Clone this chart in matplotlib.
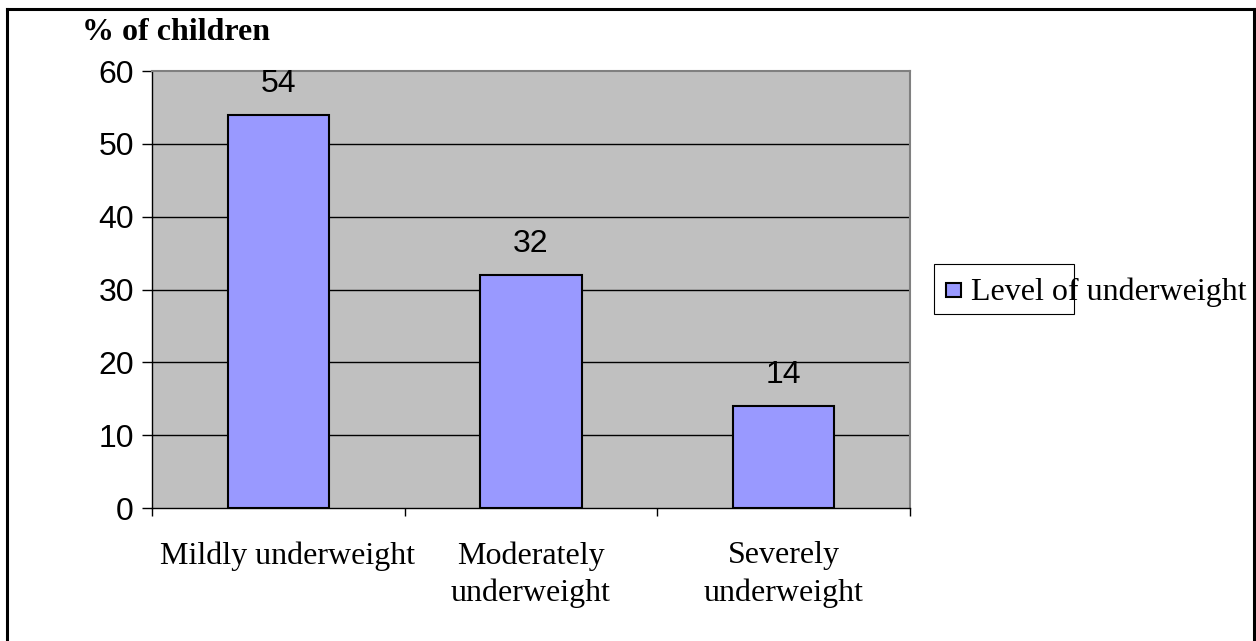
import matplotlib.pyplot as plt
from matplotlib.patches import Rectangle
from matplotlib.lines import Line2D
from matplotlib.transforms import ScaledTranslation

categories = ['Mildly underweight', 'Moderately\nunderweight', 'Severely\nunderweight']
percent = [54, 32, 14]
series_name = 'Level of underweight'
y_ticks = [0, 10, 20, 30, 40, 50, 60]

W, H = 1256, 641
serif = ['Liberation Serif', 'DejaVu Serif']
sans = ['Liberation Sans', 'DejaVu Sans']


def fx(x):
    return x / W


def fy(y):
    return 1 - y / H


fig = plt.figure(figsize=(W / 100, H / 100), dpi=100)
ax = fig.add_axes([fx(152), fy(508), (910 - 152) / W, (508 - 71) / H])
ax.set_facecolor('#c0c0c0')

pos = list(range(len(categories)))
bars = ax.bar(pos, percent, width=0.4, color='#9999ff', edgecolor='black', linewidth=1.5, zorder=3)
for x, v in zip(pos, percent):
    ax.annotate(str(v), (x, v), xytext=(0, 16.5), textcoords='offset points',
                ha='center', va='baseline', fontsize=23, family=sans)

ax.set_xlim(-0.5, len(categories) - 0.5)
ax.set_ylim(0, 60)
ax.set_yticks(y_ticks)
ax.set_yticklabels([str(t) for t in y_ticks], fontsize=23, family=sans)
for t in y_ticks[1:-1]:
    ax.axhline(t, color='black', linewidth=1, zorder=1)

# ticks on category boundaries, labels centred under each bar
ax.set_xticks([-0.5, 0.5, 1.5, 2.5])
ax.set_xticklabels([])
ax.set_xticks(pos, minor=True)
ax.set_xticklabels(categories, minor=True, fontsize=23, family=serif, linespacing=1.35)
ax.tick_params(axis='x', which='major', direction='out', length=6, width=1)
ax.tick_params(axis='x', which='minor', length=0, pad=24)
ax.tick_params(axis='y', direction='out', length=7, width=1, pad=6)
first = ax.get_xticklabels(minor=True)[0]
first.set_transform(first.get_transform() + ScaledTranslation(0.09, 0, fig.dpi_scale_trans))

for s in ['top', 'right']:
    ax.spines[s].set_color('#808080')
    ax.spines[s].set_linewidth(1.5)
for s in ['left', 'bottom']:
    ax.spines[s].set_color('black')
    ax.spines[s].set_linewidth(1)

fig.text(fx(82), fy(40), '% of children', fontsize=23, family=serif, fontweight='bold',
         ha='left', va='baseline')

# legend box, text runs past the frame
fig.add_artist(Rectangle((fx(934), fy(314)), (1074 - 934) / W, (314 - 264) / H,
                         transform=fig.transFigure, facecolor='white', edgecolor='black', linewidth=0.8))
fig.add_artist(Rectangle((fx(946), fy(297)), 15 / W, 14 / H, transform=fig.transFigure,
                         facecolor='#9999ff', edgecolor='black', linewidth=1.5))
fig.text(fx(971), fy(300), series_name, fontsize=23, family=serif, ha='left', va='baseline')

# outer frame (open at the bottom)
for xs, ys in [([7, 7], [650, 9]), ([7, 1254], [9, 9]), ([1254, 1254], [9, 650])]:
    fig.add_artist(Line2D([fx(v) for v in xs], [fy(v) for v in ys], color='black', linewidth=2.2,
                          transform=fig.transFigure))

fig.savefig('out.png', dpi=100)
